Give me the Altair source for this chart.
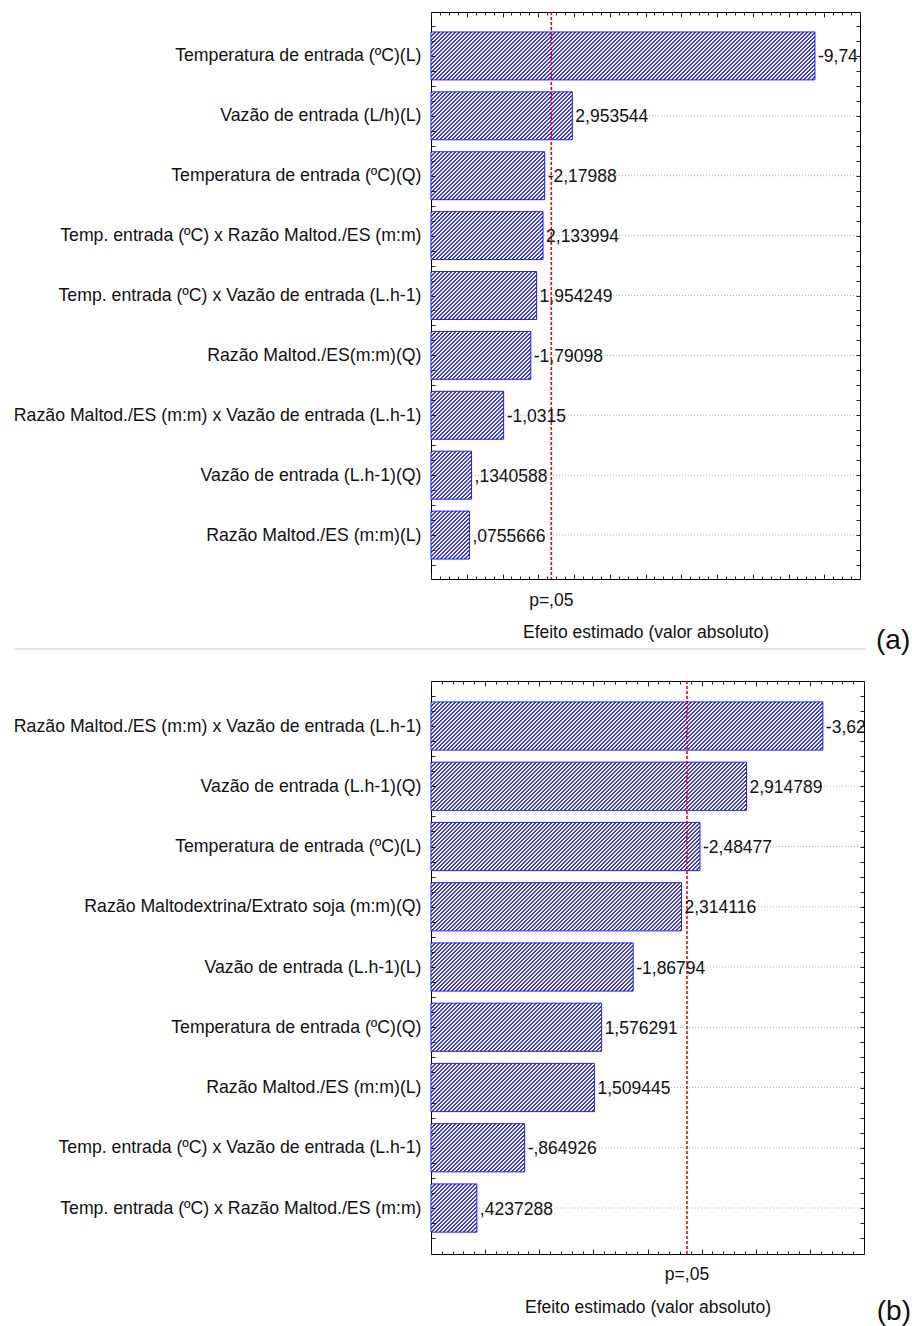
import json

import altair as alt
import pandas as pd

FONT = "Liberation Sans"
INK = "#111111"
T_CRIT = 2.364624  # t(0,975; 7 g.l.) -> limite p = 0,05

# (a) efeitos estimados
terms_a = [
    "Temperatura de entrada (ºC)(L)",
    "Vazão de entrada (L/h)(L)",
    "Temperatura de entrada (ºC)(Q)",
    "Temp. entrada (ºC) x Razão Maltod./ES (m:m)",
    "Temp. entrada (ºC) x Vazão de entrada (L.h-1)",
    "Razão Maltod./ES(m:m)(Q)",
    "Razão Maltod./ES (m:m) x Vazão de entrada (L.h-1)",
    "Vazão de entrada (L.h-1)(Q)",
    "Razão Maltod./ES (m:m)(L)",
]
effects_a = [-9.74, 2.953544, -2.17988, 2.133994, 1.954249, -1.79098, -1.0315, 0.1340588, 0.0755666]
labels_a = ["-9,74", "2,953544", "-2,17988", "2,133994", "1,954249", "-1,79098", "-1,0315", ",1340588", ",0755666"]

# (b) efeitos estimados
terms_b = [
    "Razão Maltod./ES (m:m) x Vazão de entrada (L.h-1)",
    "Vazão de entrada (L.h-1)(Q)",
    "Temperatura de entrada (ºC)(L)",
    "Razão Maltodextrina/Extrato soja (m:m)(Q)",
    "Vazão de entrada (L.h-1)(L)",
    "Temperatura de entrada (ºC)(Q)",
    "Razão Maltod./ES (m:m)(L)",
    "Temp. entrada (ºC) x Vazão de entrada (L.h-1)",
    "Temp. entrada (ºC) x Razão Maltod./ES (m:m)",
]
effects_b = [-3.62, 2.914789, -2.48477, 2.314116, -1.86794, 1.576291, 1.509445, -0.864926, 0.4237288]
labels_b = ["-3,62", "2,914789", "-2,48477", "2,314116", "-1,86794", "1,576291", "1,509445", "-,864926", ",4237288"]


def steps(lo, hi, step):
    n = int(round((hi - lo) / step))
    return [round(lo + k * step, 6) for k in range(n + 1)]


def hatch(w_px, h_px, period=4.0, ink_len=2.0, ink="#3535ff", paper="#ffffff"):
    """Diagonal '////' hatching as a hard-stop linear gradient over the bar box."""
    span = w_px + h_px
    a = span / (w_px ** 2 + h_px ** 2)
    stops = []
    k = 0
    while k * period < span:
        s0 = round(k * period / span, 6)
        s1 = round(min(1.0, (k * period + ink_len) / span), 6)
        stops += [
            {"offset": s0, "color": paper},
            {"offset": s0, "color": ink},
            {"offset": s1, "color": ink},
            {"offset": s1, "color": paper},
        ]
        k += 1
    return {"gradient": "linear", "x1": 0, "y1": 0, "x2": a * w_px, "y2": a * h_px, "stops": stops}


def tick_axis(orient, values, size):
    return alt.Axis(
        orient=orient, values=values, offset=-size, tickSize=size, labels=False,
        domain=False, grid=False, title=None, tickColor="#222222", tickWidth=1,
        zindex=2,
    )


def panel(terms, effects, labels, xdom, minor, major, ydom, width, height,
          title_pad, p_dy, tag, tag_dx, tag_dy, tag_align, separator):
    n = len(terms)
    df = pd.DataFrame({
        "row": list(range(n)),
        "term": terms,
        "effect": effects,
        "size": [abs(v) for v in effects],
        "label": labels,
    })
    xs = alt.Scale(domain=xdom, nice=False, zero=False)
    ys = alt.Scale(domain=ydom, nice=False, zero=False, reverse=True)
    pitch = height / (ydom[1] - ydom[0])
    bar_h = 0.8 * pitch

    x_minor = steps(xdom[0], xdom[1], minor)
    x_major = steps(xdom[0], xdom[1], major)
    y_ticks = steps(-0.5, n - 0.5, 0.25)

    names = json.dumps(terms, ensure_ascii=False)
    left_axis = alt.Axis(
        orient="left", values=y_ticks, offset=-4, tickSize=4, domain=False, grid=False,
        title=None, labelExpr=f"datum.value % 1 == 0 ? {names}[datum.value] : ''",
        labelFont=FONT, labelFontSize=17.7, labelColor=INK, labelPadding=10,
        labelLimit=800, labelOverlap=False, labelFlush=False, tickColor="#222222",
        zindex=2,
    )
    bottom_title_axis = alt.Axis(
        orient="bottom", values=x_major, offset=-5, tickSize=5, labels=False,
        domain=False, grid=False, tickColor="#222222", zindex=2,
        title="Efeito estimado (valor absoluto)", titleFont=FONT, titleFontSize=17.5,
        titleFontWeight="normal", titleColor=INK, titlePadding=title_pad,
    )

    layers = []

    # dotted guide lines at each effect row
    layers.append(
        alt.Chart().mark_rule(color="#b4b4b4", strokeDash=[1, 2], strokeWidth=1).encode(
            y=alt.Y("row:Q", scale=ys, axis=None)
        )
    )

    # hatched bars, one layer per bar so each gets its own hatch geometry
    for i in range(n):
        w_px = (abs(effects[i]) - xdom[0]) / (xdom[1] - xdom[0]) * width
        x_axis = None
        y_axis = None
        if i == 0:
            x_axis = tick_axis("top", x_minor, 3)
            y_axis = tick_axis("right", y_ticks, 4)
        elif i == 1:
            x_axis = tick_axis("top", x_major, 5)
        layers.append(
            alt.Chart()
            .transform_filter(f"datum.row == {i}")
            .transform_calculate(y_top="datum.row - 0.4", y_bot="datum.row + 0.4")
            .mark_bar(fill=hatch(w_px, bar_h), stroke="#1f1fff", strokeWidth=1)
            .encode(
                x=alt.X("size:Q", scale=xs, axis=x_axis),
                x2=alt.datum(xdom[0]),
                y=alt.Y("y_top:Q", scale=ys, axis=y_axis),
                y2="y_bot:Q",
            )
        )

    # critical effect for p = 0,05
    tdf = pd.DataFrame({"t": [T_CRIT], "txt": ["p=,05"]})
    layers.append(
        alt.Chart(tdf).mark_rule(color="#ff0000", strokeDash=[3, 2], strokeWidth=1.6).encode(
            x=alt.X("t:Q", scale=xs, axis=bottom_title_axis)
        )
    )

    layers.append(
        alt.Chart().mark_text(
            align="left", baseline="middle", dx=3, dy=1.5, font=FONT, fontSize=17.5,
            color=INK, clip=True,
        ).encode(
            x=alt.X("size:Q", scale=xs, axis=tick_axis("bottom", x_minor, 3)),
            y=alt.Y("row:Q", scale=ys, axis=left_axis),
            text="label:N",
        )
    )

    layers.append(
        alt.Chart(tdf).mark_text(
            align="center", baseline="alphabetic", font=FONT, fontSize=17.5, color=INK,
        ).encode(
            x=alt.X("t:Q", scale=xs, axis=None),
            y=alt.value(height + p_dy),
            text="txt:N",
        )
    )

    layers.append(
        alt.Chart(pd.DataFrame({"tag": [tag]})).mark_text(
            align=tag_align, baseline="alphabetic", font=FONT, fontSize=28, color=INK,
        ).encode(
            x=alt.value(width + tag_dx),
            y=alt.value(height + tag_dy),
            text="tag:N",
        )
    )

    if separator:
        layers.append(
            alt.Chart(pd.DataFrame({"k": [0]})).mark_rule(color="#dedede", strokeWidth=1.5).encode(
                x=alt.value(-417),
                x2=alt.value(width + 6),
                y=alt.value(height + 70),
            )
        )

    return (
        alt.layer(*layers, data=df)
        .resolve_axis(x="independent", y="independent")
        .properties(width=width, height=height)
    )


panel_a = panel(
    terms_a, effects_a, labels_a, xdom=[-1, 11], minor=0.25, major=1.0,
    ydom=[-0.7333, 8.7333], width=429, height=567, title_pad=44, p_dy=27,
    tag="(a)", tag_dx=16, tag_dy=70, tag_align="left", separator=True,
)
panel_b = panel(
    terms_b, effects_b, labels_b, xdom=[0, 4], minor=0.1, major=0.5,
    ydom=[-0.747, 8.763], width=433, height=573, title_pad=44, p_dy=26,
    tag="(b)", tag_dx=47, tag_dy=66, tag_align="right", separator=False,
)

chart = (
    alt.vconcat(panel_a, panel_b, spacing=23)
    .properties(padding={"left": 12, "top": 10, "right": 0, "bottom": 0}, background="white")
    .configure_view(stroke="#000000", strokeWidth=1)
)

chart.save("out.html", embed_options={"renderer": "svg", "actions": False})
